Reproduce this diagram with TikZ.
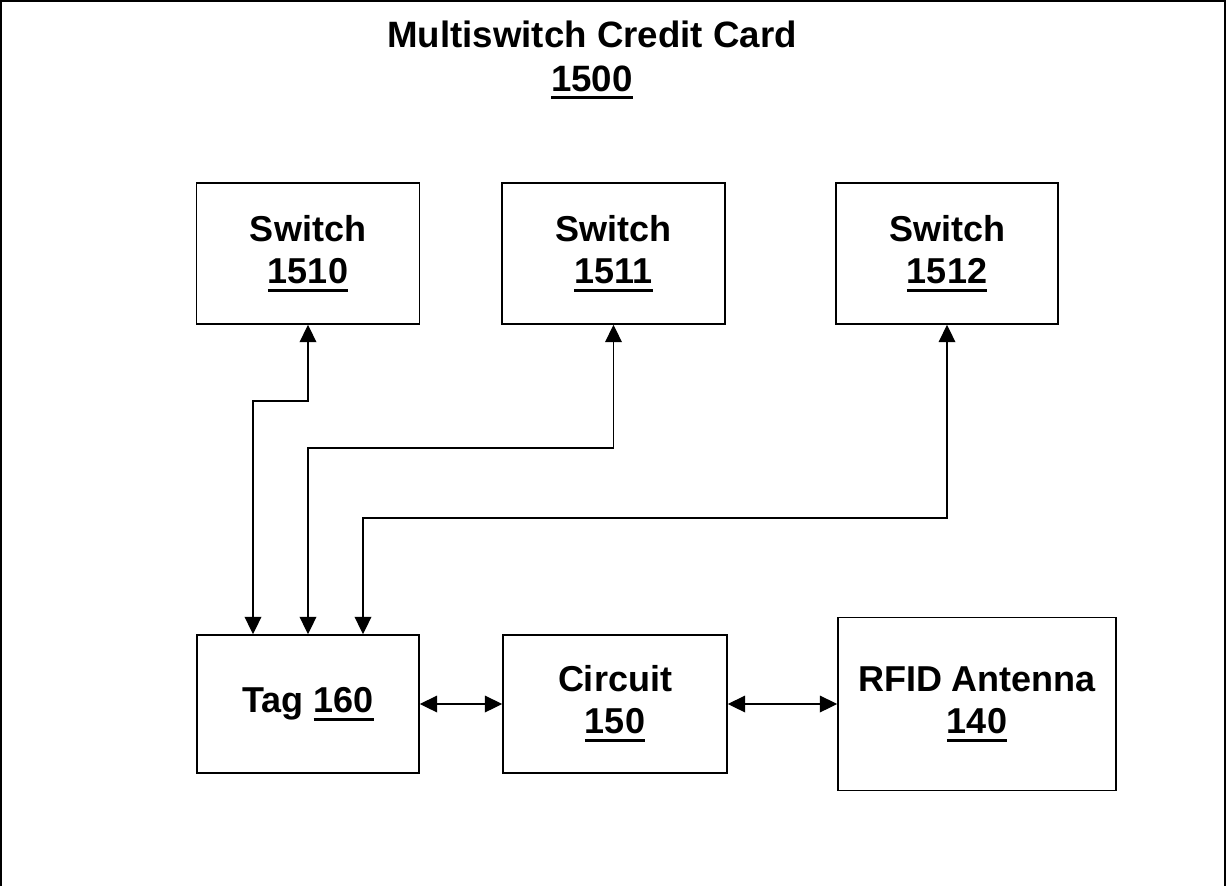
\documentclass[tikz,border=0pt]{standalone}
\usepackage{fontspec}
\setmainfont{Liberation Sans}
\usetikzlibrary{arrows.meta,calc}

\newsavebox\numbox
\newcommand{\refnum}[1]{\sbox\numbox{#1}\rlap{\rule[-6.2pt]{\wd\numbox}{2.2pt}}\usebox\numbox}

\tikzset{
	blockbox/.style={draw, line width=1.2pt, align=center, inner sep=0pt,
		font=\fontsize{27}{31.5}\selectfont\bfseries},
	link/.style={line width=1pt, {Triangle[length=13pt,width=12.5pt]}-{Triangle[length=13pt,width=12.5pt]}}
}

\begin{document}
\begin{tikzpicture}[x=0.75pt,y=0.75pt,yscale=-1,xscale=1]
	\useasboundingbox (0,0) rectangle (1231,886);
	% card outline, open at the bottom
	\draw [line width=1.4pt] (1,886) -- (1,1) -- (1225,1) -- (1225,886) ;

	\node (title) [align=center, font=\fontsize{27.5}{33}\selectfont\bfseries] at (592,60) {Multiswitch Credit Card\\\refnum{1500}};

	\node (sw1510) [blockbox, minimum width=167.25pt, minimum height=105.75pt] at (308,253.5) {Switch\\\refnum{1510}};
	\node (sw1511) [blockbox, minimum width=167.25pt, minimum height=105.75pt] at (613.5,253.5) {Switch\\\refnum{1511}};
	\node (sw1512) [blockbox, minimum width=166.5pt, minimum height=105.75pt] at (947,253.5) {Switch\\\refnum{1512}};

	\node (tag) [blockbox, minimum width=166.5pt, minimum height=103.5pt] at (308,704) {Tag \refnum{160}};
	\node (circuit) [blockbox, minimum width=168pt, minimum height=103.5pt] at (615,704) {Circuit\\\refnum{150}};
	\node (rfid) [blockbox, minimum width=208.5pt, minimum height=129.75pt] at (977,704) {RFID Antenna\\\refnum{140}};

	% switch lines into the tag
	\draw [link] (sw1510.south) -- (sw1510.south |- 0,401) -| ($(tag.north)+(-55,0)$) ;
	\draw [link] (sw1511.south) -- (sw1511.south |- 0,448) -| (tag.north) ;
	\draw [link] (sw1512.south) -- (sw1512.south |- 0,518) -| ($(tag.north)+(55,0)$) ;

	\draw [link] (tag.east) -- (circuit.west) ;
	\draw [link] (circuit.east) -- (rfid.west) ;
\end{tikzpicture}
\end{document}
